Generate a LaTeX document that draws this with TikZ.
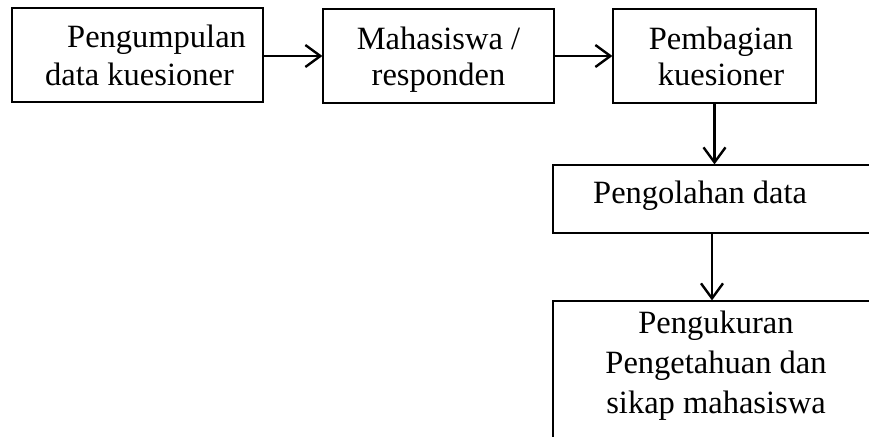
\documentclass[tikz,border=0pt]{standalone}
\usepackage{fontspec}
\setmainfont{Liberation Serif}
\usetikzlibrary{arrows.meta}
\tikzset{
  box/.style={draw=black, line width=1.2pt, rectangle, inner sep=0pt, fill=none},
  txt/.style={font=\fontsize{32.5}{36}\selectfont, inner sep=0pt, text=black},
  flow/.style={draw=black, line width=2.6pt, -{Straight Barb[length=15pt, width=22pt, line width=2.4pt]}}
}
\begin{document}
\begin{tikzpicture}[x=1pt,y=-1pt]
\useasboundingbox (0,0) rectangle (869,436);
\clip (0,0) rectangle (869,436);
\fill[white] (0,0) rectangle (869,436);
% boxes
\node[box, minimum width=251pt, minimum height=94pt] (b1) at (137.5,55) {};
\node[box, minimum width=231pt, minimum height=94pt] (b2) at (438.5,56) {};
\node[box, minimum width=203pt, minimum height=94pt] (b3) at (714.5,56) {};
\node[box, minimum width=400pt, minimum height=68pt] (b4) at (753,199) {};
\node[box, minimum width=400pt, minimum height=200pt] (b5) at (753,401) {};
% texts
\node[txt, anchor=base west] (t1a) at (67,48) {Pengumpulan};
\node[txt, anchor=base west] (t1b) at (45,85) {data kuesioner};
\node[txt, anchor=base] (t2a) at (438.5,49) {Mahasiswa /};
\node[txt, anchor=base] (t2b) at (438.5,85) {responden};
\node[txt, anchor=base] (t3a) at (721,50) {Pembagian};
\node[txt, anchor=base] (t3b) at (721,85) {kuesioner};
\node[txt, anchor=base west] (t4) at (593,203) {Pengolahan data};
\node[txt, anchor=base] (t5a) at (716,333) {Pengukuran};
\node[txt, anchor=base] (t5b) at (716,373) {Pengetahuan dan};
\node[txt, anchor=base] (t5c) at (716,413) {sikap mahasiswa};
% connectors
\draw[flow] (b1.east |- b2.west) -- (b2.west);
\draw[flow] (b2.east) -- (b3.west);
\draw[flow] (b3.south) -- (b3.south |- b4.north);
\coordinate (c4) at (712,233);
\draw[flow] (c4) -- (c4 |- b5.north);
\end{tikzpicture}
\end{document}
